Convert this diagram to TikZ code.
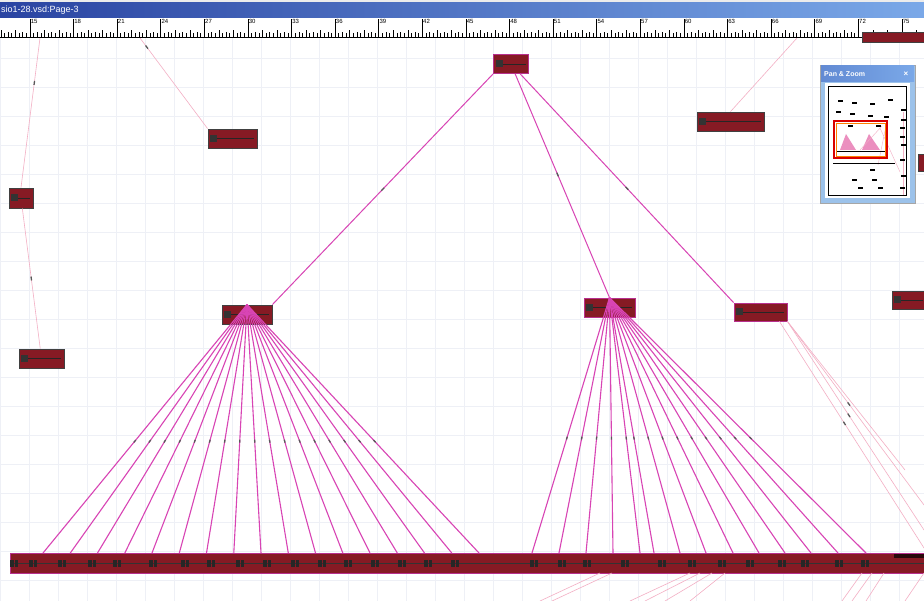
\documentclass[tikz,border=0pt]{standalone}
\usepackage{fontspec}
\setsansfont{Liberation Sans}
\usetikzlibrary{calc}
\definecolor{boxred}{HTML}{861A24}
\definecolor{fanmag}{HTML}{D844B4}
\definecolor{boxedge}{HTML}{B8308E}
\definecolor{palepink}{HTML}{F3AFC4}
\definecolor{gridc}{HTML}{EEF0F6}
\definecolor{titleL}{HTML}{2A44A2}
\definecolor{titleR}{HTML}{7AA8E8}
\definecolor{pzblue}{HTML}{9CC2EA}
\begin{document}
\begin{tikzpicture}[x=1pt,y=-1pt,
  vbox/.style={draw=black!75, line width=.8pt, fill=boxred, inner sep=0pt, minimum height=19pt,
    path picture={\fill[black!80] ([xshift=2pt,yshift=-3.5pt]path picture bounding box.west) rectangle ++(7pt,7pt);
      \draw[black!85,line width=.6pt] ([xshift=9pt]path picture bounding box.west) -- ([xshift=-3pt]path picture bounding box.east);}},
  magbox/.style={vbox, draw=boxedge},
  fan/.style={fanmag, line width=1.1pt},
  link/.style={fanmag, line width=1pt},
  pale/.style={palepink, line width=.6pt},
  mk/.style={sloped, fill=black!65, inner sep=0pt, minimum width=4pt, minimum height=1.3pt},
  mini/.style={black, line width=1.4pt}]
\useasboundingbox (0,0) rectangle (924,601);
\fill[white] (0,0) rectangle (924,601);
% grid
\draw[gridc, line width=.35pt, step=29pt] (0,38) grid (924,601);

% --- boxes ---
\node[magbox, minimum width=35pt] (top) at (511,64) {};
\node[vbox, minimum width=49pt] (b1) at (232.5,138.5) {};
\node[vbox, minimum width=24pt, minimum height=20pt] (b2) at (21,198) {};
\node[vbox, minimum width=45pt] (b3) at (41.5,358.5) {};
\node[vbox, minimum width=67pt] (b4) at (730.5,121.5) {};
\node[vbox, minimum width=50pt] (L) at (247,314.5) {};
\node[magbox, minimum width=51pt] (R) at (609.5,307.5) {};
\node[magbox, minimum width=53pt, minimum height=18pt] (M) at (760.5,312) {};
\node[vbox, minimum width=34pt, minimum height=18pt] (b6) at (909,300) {};
\node[vbox, minimum width=8pt, minimum height=17pt, path picture={}] (b7) at (922,163) {};

% bottom bar
\node[draw=boxedge, line width=.8pt, fill=boxred, inner sep=0pt, minimum width=916pt, minimum height=20pt, anchor=north west] (bar) at (10,553) {};
\fill[black!70!boxred] (894,553.5) rectangle (924,558);
\draw[black!80, line width=.6pt] (bar.west) -- (bar.east);
\foreach \x in {14,33,62,92,117,153,185,211,240,267,295,322,348,375,402,428,455,534,562,587,625,662,692,722,750,782,805,839,865}
  {\fill[black!85] (\x-4,559.5) rectangle (\x-0.5,566.5); \fill[black!85] (\x+0.5,560) rectangle (\x+4,566.5);}

% free ends
\coordinate (t1) at (40,38);
\coordinate (t2) at (140,38);
\coordinate (t3) at (797,38);
\coordinate (e1) at (924,505);
\coordinate (e2) at (924,530);
\coordinate (e3) at (924,548);
\coordinate (e4) at (905,470);

% pale connectors
\draw[pale] (t1) -- (b2.north) node[mk,pos=.3]{};
\draw[pale] (b2) -- (b3) node[mk,pos=.5]{};
\draw[pale] (t2) -- (b1.north west) node[mk,pos=.1]{};
\draw[pale] (t3) -- (b4.north) ;
\draw[pale] (M.south east) -- (e1) node[mk,pos=.45]{};
\draw[pale] (M.south east) -- (e2) node[mk,pos=.45]{};
\draw[pale] ([xshift=-8pt]M.south east) -- (e3) node[mk,pos=.45]{};
\draw[pale] (M.south east) -- (e4);
% pale lines below bar
\foreach \a/\b in {600/540,612/552,690/630,700/645,712/665,725/690,862/842,872/852,884/866,924/905}
  {\coordinate (u) at (\a,573); \coordinate (v) at (\b,601); \draw[pale] (u) -- (v);}

% top links
\draw[link] (top.south west) -- (L.north east) node[mk,pos=.5]{};
\draw[link] (top) -- (R.north) node[mk,pos=.45]{};
\draw[link] (top) -- (M.north west) node[mk,pos=.5]{};

% fans
\foreach \x [count=\i] in {43,70.3,97.5,124.8,152,179.3,206.5,233.8,261,288.3,315.5,342.8,370,397.3,424.5,451.8,479}
  {\coordinate (lb\i) at (\x,553); \draw[fan] (L.north) -- (lb\i) node[mk,pos=.55,minimum width=3pt]{};}
\foreach \x [count=\i] in {532,559,586,613,640,654,680,706,733,759,785,811,838,866}
  {\coordinate (rb\i) at (\x,553); \draw[fan] (R.north) -- (rb\i) node[mk,pos=.55,minimum width=3pt]{};}

% --- title bar and ruler ---
\fill[white!85!gray] (0,0) rectangle (924,3);
\shade[left color=titleL, right color=titleR] (0,3) rectangle (924,18);
\node[white, font=\fontsize{9}{10}\sffamily, anchor=west, inner sep=1pt] at (0,10.5) {sio1-28.vsd:Page-3};
\fill[white] (0,18) rectangle (924,38);
\draw[black, line width=1.2pt] (0,37.5) -- (924,37.5);
\foreach \k in {52,...,308} \draw[black, line width=.7pt] ({30+(\k-60)*3.6333},37) -- ++(0,-3.5);
\foreach \n in {13,...,77} {
  \draw[black, line width=.7pt] ({30+(\n-15)*14.533},37) -- ++(0,-7);
  \draw[black, line width=.7pt] ({30+(\n-15)*14.533+7.27},37) -- ++(0,-5);}
\foreach \n in {15,18,...,75} {
  \draw[black, line width=.7pt] ({30+(\n-15)*14.533},37) -- ({30+(\n-15)*14.533},19);
  \node[font=\fontsize{6}{7}\sffamily, anchor=north west, inner sep=.6pt] at ({30+(\n-15)*14.533},19) {\n};}
\node[vbox, minimum width=62pt, minimum height=10pt, path picture={}] (b5) at (893,37) {};

% --- Pan & Zoom window ---
\fill[pzblue] (820,65) rectangle (915,203);
\draw[black!35, line width=.6pt] (820,65) rectangle (915,203);
\shade[left color=titleR!70!titleL, right color=titleR] (821,66) rectangle (914,82);
\node[white, font=\fontsize{7}{8}\sffamily\bfseries, anchor=west, inner sep=0pt] at (824,74.5) {Pan \& Zoom};
\node[white, font=\fontsize{8}{9}\sffamily\bfseries, inner sep=0pt] at (906,74) {×};
\fill[white] (825,83) rectangle (910,198);
\draw[black, line width=.9pt] (828,86) rectangle (906,195);
% miniature
\fill[palepink!70!fanmag] (840,150) -- (846,134) -- (856,150) -- cycle;
\fill[palepink!70!fanmag] (862,150) -- (869,134) -- (880,150) -- cycle;
\draw[palepink, line width=.4pt] (882,126) -- (860,150) (886,126) -- (878,165) (880,128) -- (900,172);
\draw[palepink, line width=.8pt] (903,112) -- (903,195);
\draw[black, line width=.8pt] (836,151) -- (886,151) (833,163) -- (895,163);
\foreach \p in {(838,101),(852,103),(836,112),(850,114),(870,104),(888,100),(868,116),(884,117),(848,126),(876,126),(870,170),(872,180),(858,188),(878,188),(852,180)}
  \draw[mini] \p -- ++(5,0);
\foreach \p in {(901,110),(900,128),(901,145),(900,160),(901,176),(900,188),(901,120),(900,137)}
  \draw[mini] \p -- ++(5,0);
\draw[red!85!black, line width=1.6pt] (834,121) rectangle (887,158);
\draw[orange, line width=.4pt] (836,123) rectangle (885,156);
\end{tikzpicture}
\end{document}
